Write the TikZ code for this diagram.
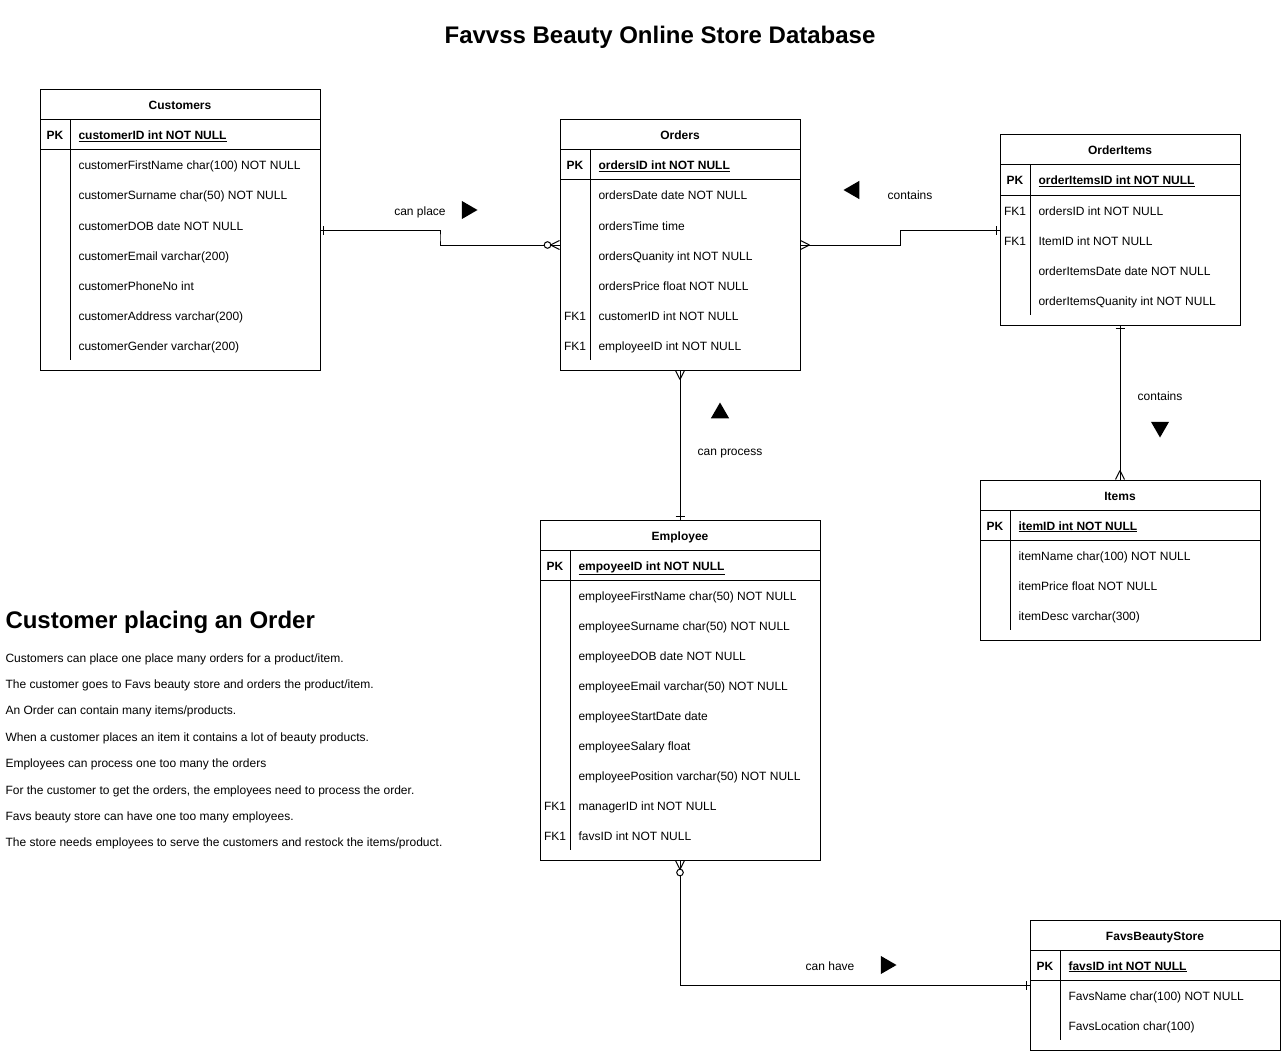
\documentclass[tikz,border=0pt]{standalone}
\usepackage{fontspec}
\setmainfont{Liberation Sans}
\usetikzlibrary{calc,shapes.geometric,decorations.markings}

\tikzset{
    tblbox/.style={draw, inner sep=0pt},
    headtxt/.style={font=\fontsize{12}{14}\selectfont\bfseries, inner sep=0pt, text height=11.5pt, text depth=1.5pt},
    keytxt/.style={inner sep=0pt, text height=11.5pt, text depth=1.5pt},
    pkkey/.style={keytxt, font=\fontsize{12}{14}\selectfont\bfseries},
    fieldtxt/.style={anchor=west, inner sep=0pt, text height=11.5pt, text depth=1.5pt},
    pktxt/.style={fieldtxt, font=\fontsize{12}{14}\selectfont\bfseries},
    reltxt/.style={inner sep=0pt, text height=11.5pt, text depth=1.5pt},
    dirmark/.style={regular polygon, regular polygon sides=3, fill, draw=none, inner sep=0pt, minimum size=21pt},
    one end/.style={postaction={decorate, decoration={markings,
        mark=at position -3pt with {\draw (0,-4.5pt) -- (0,4.5pt);}}}},
    one start/.style={postaction={decorate, decoration={markings,
        mark=at position 3pt with {\draw (0,-4.5pt) -- (0,4.5pt);}}}},
    many end/.style={postaction={decorate, decoration={markings,
        mark=at position 1 with {\draw (-9pt,0) -- (0,4.5pt) (-9pt,0) -- (0,-4.5pt);}}}},
    many start/.style={postaction={decorate, decoration={markings,
        mark=at position 0 with {\draw (9pt,0) -- (0,4.5pt) (9pt,0) -- (0,-4.5pt);}}}},
    zero many end/.style={many end, postaction={decorate, decoration={markings,
        mark=at position -12pt with {\draw[fill=white] (0,0) circle (3.3pt);}}}},
    zero many start/.style={many start, postaction={decorate, decoration={markings,
        mark=at position 12pt with {\draw[fill=white] (0,0) circle (3.3pt);}}}},
}

\begin{document}
\begin{tikzpicture}[x=1pt, y=-1pt, line width=1pt, font=\fontsize{12}{14}\selectfont]
    \useasboundingbox (0,0) rectangle (1281,1051);

    \node[font=\fontsize{24}{28}\selectfont\bfseries] (title) at (660,37) {Favvss Beauty Online Store Database};

    % Customers
    \node[tblbox, minimum width=280, minimum height=280] (cust) at (180,230) {};
    \node[headtxt] (custhead) at (180,105) {Customers};
    \draw (40,120) -- (320,120) (40,150) -- (320,150) (70,120) -- (70,360);
    \node[pkkey] (custpk) at (55,135) {PK};
    \node[pktxt] (custid) at (78,135) {\underline{customerID int NOT NULL}};
    \foreach \f [count=\i from 0] in {customerFirstName char(100) NOT NULL, customerSurname char(50) NOT NULL,
        customerDOB date NOT NULL, customerEmail varchar(200), customerPhoneNo int,
        customerAddress varchar(200), customerGender varchar(200)}
        \node[fieldtxt] (cust\i) at (78,{165+30*\i}) {\f};

    % Orders
    \node[tblbox, minimum width=240, minimum height=250] (ord) at (680,245) {};
    \node[headtxt] (ordhead) at (680,135) {Orders};
    \draw (560,150) -- (800,150) (560,180) -- (800,180) (590,150) -- (590,360);
    \node[pkkey] (ordpk) at (575,165) {PK};
    \node[pktxt] (ordid) at (598,165) {\underline{ordersID int NOT NULL}};
    \foreach \f [count=\i from 0] in {ordersDate date NOT NULL, ordersTime time, ordersQuanity int NOT NULL,
        ordersPrice float NOT NULL, customerID int NOT NULL, employeeID int NOT NULL}
        \node[fieldtxt] (ord\i) at (598,{195+30*\i}) {\f};
    \node[keytxt] (ordfk1) at (575,315) {FK1};
    \node[keytxt] (ordfk2) at (575,345) {FK1};

    % OrderItems
    \node[tblbox, minimum width=240, minimum height=190] (oi) at (1120,230) {};
    \node[headtxt] (oihead) at (1120,150) {OrderItems};
    \draw (1000,165) -- (1240,165) (1000,195) -- (1240,195) (1030,165) -- (1030,315);
    \node[pkkey] (oipk) at (1015,180) {PK};
    \node[pktxt] (oiid) at (1038,180) {\underline{orderItemsID int NOT NULL}};
    \foreach \f [count=\i from 0] in {ordersID int NOT NULL, ItemID int NOT NULL,
        orderItemsDate date NOT NULL, orderItemsQuanity int NOT NULL}
        \node[fieldtxt] (oi\i) at (1038,{210+30*\i}) {\f};
    \node[keytxt] (oifk1) at (1015,210) {FK1};
    \node[keytxt] (oifk2) at (1015,240) {FK1};

    % Items
    \node[tblbox, minimum width=280, minimum height=160] (items) at (1120,560) {};
    \node[headtxt] (itemshead) at (1120,495) {Items};
    \draw (980,510) -- (1260,510) (980,540) -- (1260,540) (1010,510) -- (1010,630);
    \node[pkkey] (itemspk) at (995,525) {PK};
    \node[pktxt] (itemsid) at (1018,525) {\underline{itemID int NOT NULL}};
    \foreach \f [count=\i from 0] in {itemName char(100) NOT NULL, itemPrice float NOT NULL, itemDesc varchar(300)}
        \node[fieldtxt] (items\i) at (1018,{555+30*\i}) {\f};

    % Employee
    \node[tblbox, minimum width=280, minimum height=340] (emp) at (680,690) {};
    \node[headtxt] (emphead) at (680,535) {Employee};
    \draw (540,550) -- (820,550) (540,580) -- (820,580) (570,550) -- (570,850);
    \node[pkkey] (emppk) at (555,565) {PK};
    \node[pktxt] (empid) at (578,565) {\underline{empoyeeID int NOT NULL}};
    \foreach \f [count=\i from 0] in {employeeFirstName char(50) NOT NULL, employeeSurname char(50) NOT NULL,
        employeeDOB date NOT NULL, employeeEmail varchar(50) NOT NULL, employeeStartDate date,
        employeeSalary float, employeePosition varchar(50) NOT NULL, managerID int NOT NULL, favsID int NOT NULL}
        \node[fieldtxt] (emp\i) at (578,{595+30*\i}) {\f};
    \node[keytxt] (empfk1) at (555,805) {FK1};
    \node[keytxt] (empfk2) at (555,835) {FK1};

    % FavsBeautyStore
    \node[tblbox, minimum width=250, minimum height=130] (favs) at (1155,985) {};
    \node[headtxt] (favshead) at (1155,935) {FavsBeautyStore};
    \draw (1030,950) -- (1280,950) (1030,980) -- (1280,980) (1060,950) -- (1060,1040);
    \node[pkkey] (favspk) at (1045,965) {PK};
    \node[pktxt] (favsid) at (1068,965) {\underline{favsID int NOT NULL}};
    \foreach \f [count=\i from 0] in {FavsName char(100) NOT NULL, FavsLocation char(100)}
        \node[fieldtxt] (favs\i) at (1068,{995+30*\i}) {\f};

    % relationships
    \draw[one start, zero many end] (cust.east) -| ($(cust.east)!.5!(ord.west)$) |- (ord.west);
    \draw[many start, one end] (ord.east) -| ($(ord.east)!.5!(oi.west)$) |- (oi.west);
    \draw[many start, one end] (ord.south) -- (emp.north);
    \draw[one start, many end] (oi.south) -- (items.north);
    \draw[zero many start, one end] (emp.south) |- (favs.west);

    \node[reltxt] (placelbl) at (420,210) {can place};
    \node[dirmark, rotate=-90] (placedir) at (467,210) {};
    \node[reltxt] (containlbl) at (910,195) {contains};
    \node[dirmark, rotate=90] (containdir) at (854,190) {};
    \node[reltxt] (processlbl) at (730,450) {can process};
    \node[dirmark] (processdir) at (720,413) {};
    \node[reltxt] (itemlbl) at (1160,395) {contains};
    \node[dirmark, rotate=180] (itemdir) at (1160,427) {};
    \node[reltxt] (havelbl) at (830,965) {can have};
    \node[dirmark, rotate=-90] (havedir) at (886,965) {};

    % notes
    \node[anchor=west, inner sep=0pt, font=\fontsize{24}{28}\selectfont\bfseries] (notehead) at (5,622) {Customer placing an Order};
    \foreach \t [count=\i from 0] in {Customers can place one place many orders for a product/item.,
        The customer goes to Favs beauty store and orders the product/item.,
        An Order can contain many items/products.,
        When a customer places an item it contains a lot of beauty products.,
        Employees can process one too many the orders,
        {For the customer to get the orders, the employees need to process the order.},
        Favs beauty store can have one too many employees.,
        The store needs employees to serve the customers and restock the items/product.}
        \node[fieldtxt] (note\i) at (5,{657+26.4*\i}) {\t};
\end{tikzpicture}
\end{document}
